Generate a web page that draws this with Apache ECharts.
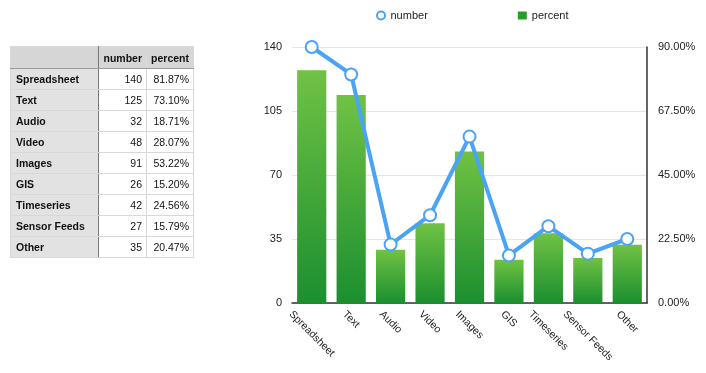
<!DOCTYPE html>
<html>
<head>
<meta charset="utf-8">
<script src="https://cdn.jsdelivr.net/npm/echarts@6/dist/echarts.min.js"></script>
<style>
  html,body{margin:0;padding:0;background:#fff;}
  #wrap{position:relative;width:706px;height:373px;overflow:hidden;}
  #chart{position:absolute;left:0;top:0;width:706px;height:373px;}
  table{position:absolute;left:10px;top:46px;border-collapse:collapse;table-layout:fixed;width:183px;font-family:"Liberation Sans",Arial,Helvetica,sans-serif;font-size:10.5px;color:#111;}
  td,th{height:20px;padding:0 4px;border:1px solid #d8d8d8;overflow:hidden;white-space:nowrap;}
  th{background:#d6d6d6;font-weight:bold;text-align:right;height:21px;border-bottom:1px solid #9a9a9a;}
  td.l{background:#e2e2e2;font-weight:bold;text-align:left;border-right:1px solid #777;padding-left:5px;}
  th.l{border-right:1px solid #777;}
  td.n,td.p{text-align:right;background:#fff;}
</style>
</head>
<body>
<div id="wrap">
  <div id="chart"></div>
  <table id="tbl"><colgroup><col style="width:88px"><col style="width:48px"><col style="width:47px"></colgroup><tbody id="tb"></tbody></table>
</div>
<script>
const categories = ["Spreadsheet","Text","Audio","Video","Images","GIS","Timeseries","Sensor Feeds","Other"];
const numberValues = [140,125,32,48,91,26,42,27,35];
const percentValues = [81.87,73.10,18.71,28.07,53.22,15.20,24.56,15.79,20.47];
const leftTicks = [0,35,70,105,140];
const rightTicks = [0,22.5,45,67.5,90];

// table
let html = '<tr><th class="l"></th><th>number</th><th>percent</th></tr>';
categories.forEach((c,i)=>{
  html += '<tr><td class="l">'+c+'</td><td class="n">'+numberValues[i]+'</td><td class="p">'+percentValues[i].toFixed(2)+'%</td></tr>';
});
document.getElementById('tb').innerHTML = html;

const FONT = '"Liberation Sans", Arial, Helvetica, sans-serif';
const BLUE = '#4aa3f5';
const chart = echarts.init(document.getElementById('chart'), null, {renderer:'canvas'});
const option = {
  animation:false,
  textStyle:{fontFamily:FONT},
  legend:{
    top:5, left:371, itemGap:90, itemWidth:9, itemHeight:8,
    textStyle:{fontSize:11,color:'#222',fontFamily:FONT},
    data:[{name:'number',icon:'emptyCircle'},{name:'percent',icon:'rect',itemStyle:{color:'#2a9a2a'}}]
  },
  grid:{left:292,right:59,top:47,bottom:70,containLabel:false},
  xAxis:{
    type:'category', data:categories,
    axisLine:{show:true,lineStyle:{color:'#333',width:1.5}},
    axisTick:{show:false},
    axisLabel:{show:false}
  },
  yAxis:[
    {type:'value',min:leftTicks[0],max:leftTicks[leftTicks.length-1],interval:leftTicks[1]-leftTicks[0],
     axisLine:{show:false},axisTick:{show:false},
     axisLabel:{color:'#222',fontSize:11,margin:10,fontFamily:FONT},
     splitLine:{show:true,lineStyle:{color:'#e6e6e6',width:1}}},
    {type:'value',min:rightTicks[0],max:rightTicks[rightTicks.length-1],interval:rightTicks[1]-rightTicks[0],
     position:'right',
     axisLine:{show:true,lineStyle:{color:'#333',width:1.5}},axisTick:{show:false},
     axisLabel:{color:'#222',fontSize:11,margin:11,fontFamily:FONT,formatter:v=>v.toFixed(2)+'%'},
     splitLine:{show:false}}
  ],
  series:[
    {name:'percent',type:'bar',yAxisIndex:1,data:percentValues,barWidth:'74%',z:2,
     itemStyle:{color:new echarts.graphic.LinearGradient(0,0,0,1,[{offset:0,color:'#70c244'},{offset:1,color:'#1b8f2f'}])}},
    {name:'number',type:'line',yAxisIndex:0,data:numberValues,z:3,
     symbol:'emptyCircle',symbolSize:12,
     lineStyle:{color:BLUE,width:4},
     itemStyle:{color:BLUE,borderColor:BLUE,borderWidth:3.5}}
  ]
};
chart.setOption(option);

// rotated category labels, positioned through the axis scale
const ctx = document.createElement('canvas').getContext('2d');
const LFONT = '10.5px ' + FONT;
ctx.font = LFONT;
const y0 = chart.convertToPixel({yAxisIndex:0}, 0);
const s = Math.SQRT1_2;
const elements = categories.map((c)=>{
  const cx = chart.convertToPixel({xAxisIndex:0}, c);
  const w = ctx.measureText(c).width;
  const h = 10.5;
  const cy = y0 + 6 + (w*s + h*s)/2;
  return {type:'text', x:cx, y:cy, rotation:-Math.PI/4, silent:true,
    style:{text:c, font:LFONT, fill:'#222', align:'center', verticalAlign:'middle'}};
});
chart.setOption({graphic:{elements}});
</script>
</body>
</html>
